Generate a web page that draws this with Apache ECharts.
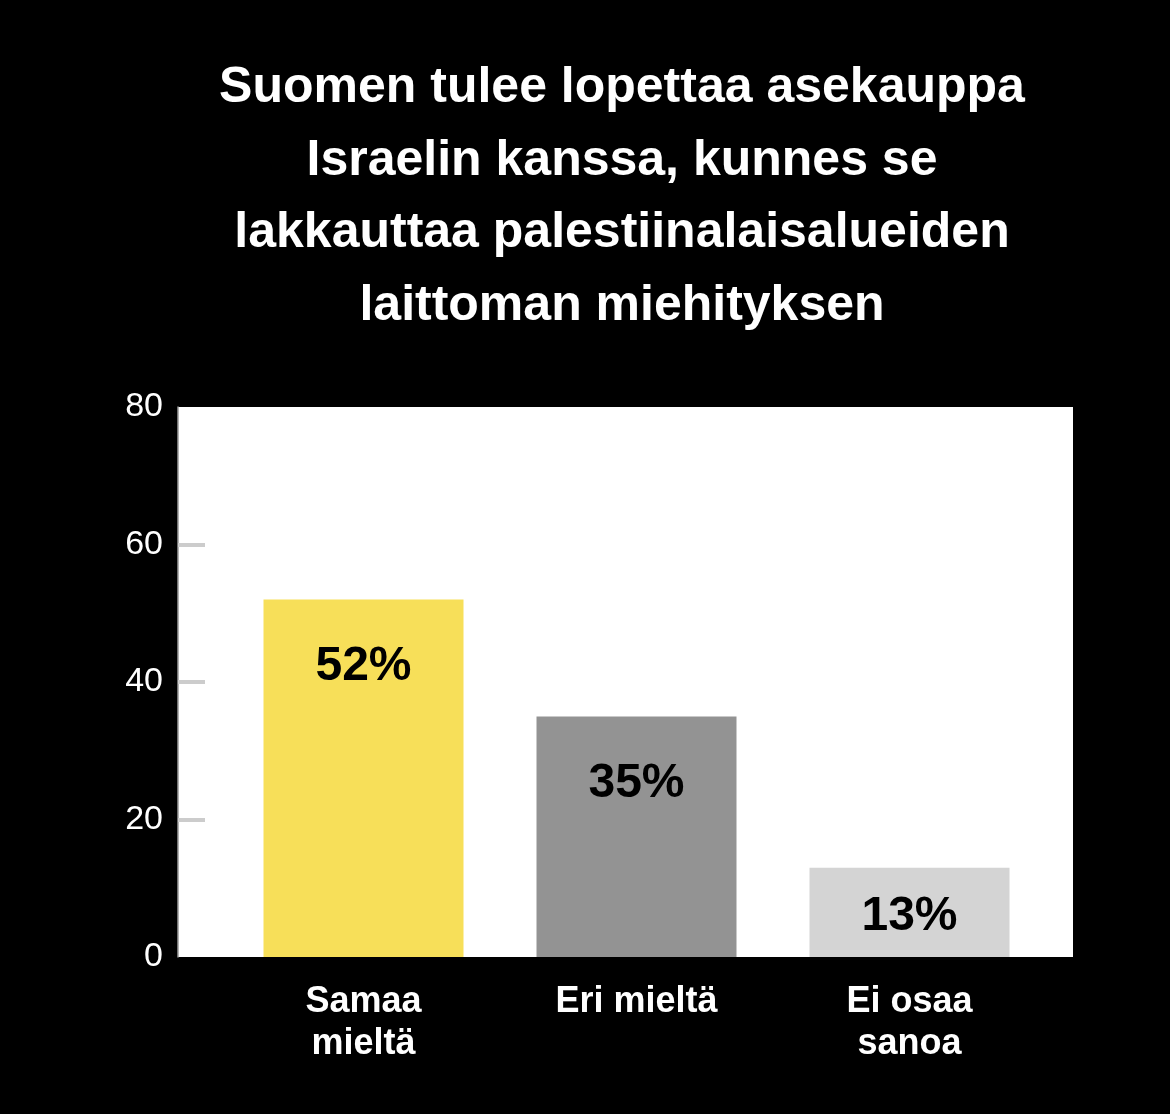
<!DOCTYPE html>
<html>
<head>
<meta charset="utf-8">
<script src="https://cdn.jsdelivr.net/npm/echarts@6/dist/echarts.min.js"></script>
<style>
html,body{margin:0;padding:0;background:#000;}
#main{width:1170px;height:1114px;}
</style>
</head>
<body>
<div id="main"></div>
<script>
// kyselyn tulokset
var categories = ['Samaa\nmieltä', 'Eri mieltä', 'Ei osaa\nsanoa'];
var values = [52, 35, 13];
var barColors = ['#F7DF59', '#939393', '#D4D4D4'];
var yTicks = [0, 20, 40, 60, 80];
var titleText = 'Suomen tulee lopettaa asekauppa\nIsraelin kanssa, kunnes se\nlakkauttaa palestiinalaisalueiden\nlaittoman miehityksen';

var chart = echarts.init(document.getElementById('main'));
var font = '"Liberation Sans", Arial, sans-serif';

var barData = values.map(function (v, i) {
	var item = { value: v, itemStyle: { color: barColors[i] } };
	// lyhyt palkki -> teksti keskelle
	if (v < 20) {
		item.label = { position: 'inside', offset: [0, 4] };
	}
	return item;
});

chart.setOption({
	backgroundColor: '#000',
	title: {
		text: titleText,
		left: 622,
		top: 52,
		padding: 0,
		textAlign: 'center',
		textStyle: {
			color: '#fff',
			fontSize: 50,
			fontWeight: 'bold',
			lineHeight: 72.5,
			fontFamily: font
		}
	},
	graphic: [{
		type: 'rect',
		z: -1,
		silent: true,
		shape: { x: 178, y: 407, width: 895, height: 550 },
		style: { fill: '#fff' }
	}],
	grid: { left: 227, right: 124, top: 407, bottom: 157 },
	xAxis: {
		type: 'category',
		data: categories,
		axisLine: { show: false },
		axisTick: { show: false },
		axisLabel: {
			color: '#fff',
			fontSize: 36,
			fontWeight: 'bold',
			lineHeight: 42,
			margin: 24,
			fontFamily: font
		}
	},
	yAxis: {
		type: 'value',
		min: yTicks[0],
		max: yTicks[yTicks.length - 1],
		interval: 20,
		offset: 49,
		axisLine: { show: true, lineStyle: { color: '#9a9a9a', width: 1.5 } },
		axisTick: {
			show: true,
			inside: true,
			length: 27,
			customValues: yTicks.slice(1, -1),
			lineStyle: { color: '#cccccc', width: 4 }
		},
		splitLine: { show: false },
		axisLabel: {
			color: '#fff',
			fontSize: 34,
			margin: 15,
			fontFamily: font
		}
	},
	series: [{
		type: 'bar',
		data: barData,
		barWidth: 200,
		label: {
			show: true,
			position: 'insideTop',
			distance: 43,
			color: '#000',
			fontSize: 48,
			fontWeight: 'bold',
			fontFamily: font,
			formatter: '{c}%'
		}
	}]
});
</script>
</body>
</html>
